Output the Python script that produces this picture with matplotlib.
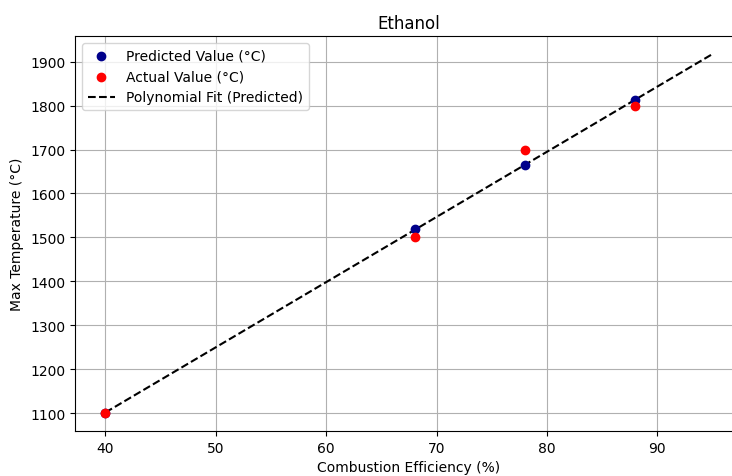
import numpy as np
import matplotlib.pyplot as plt

# combustion efficiency (%) and max temperature (C) for ethanol
efficiency = [40, 68, 78, 88]
predicted = [1100, 1520, 1665, 1812]
actual = [1100, 1500, 1700, 1800]

# polynomial fit of the predicted values
poly = np.poly1d(np.polyfit(efficiency, predicted, 1))
x_fit = np.linspace(40, 95, 100)

fig = plt.figure(figsize=(7.32, 4.77), dpi=100)
# the original image is cropped on the right, so the axes run off the figure
ax = fig.add_axes([75 / 732, 45 / 477, 668 / 732, 395 / 477])

ax.scatter(efficiency, predicted, color='darkblue', label='Predicted Value (°C)', zorder=3)
ax.scatter(efficiency, actual, color='red', label='Actual Value (°C)', zorder=3)
ax.plot(x_fit, poly(x_fit), color='black', linestyle='--', label='Polynomial Fit (Predicted)')

ax.set_title('Ethanol')
ax.set_xlabel('Combustion Efficiency (%)')
ax.set_ylabel('Max Temperature (°C)')
ax.grid(True)
ax.legend(loc='upper left')

fig.savefig('out.png', dpi=100)
